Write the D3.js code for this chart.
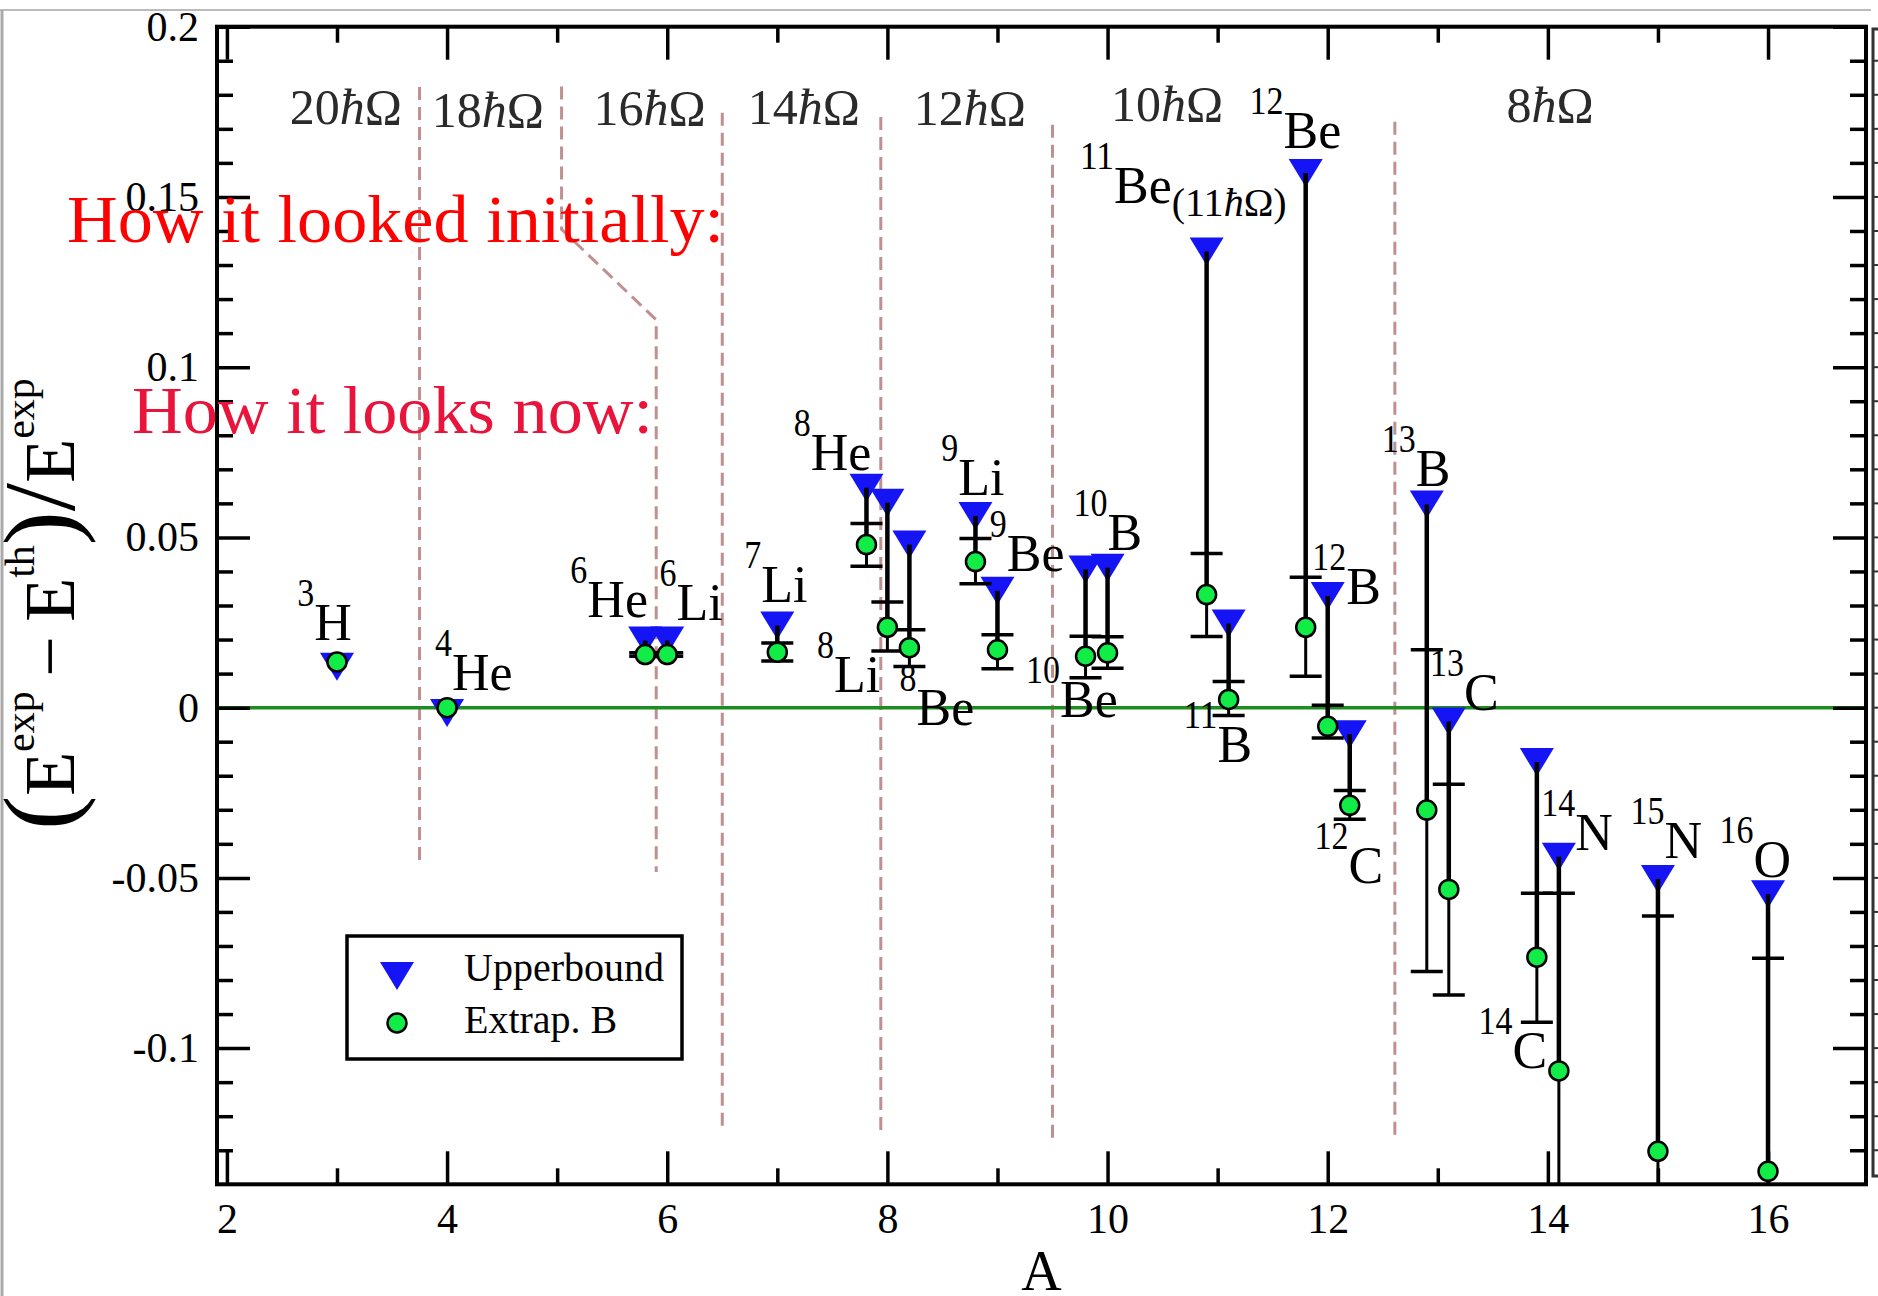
<!DOCTYPE html>
<html lang="en">
<head>
<meta charset="utf-8">
<title>Relative binding energy difference vs A</title>
<style>
body { margin: 0; background: #fff; }
svg text { font-family: "Liberation Serif", "Times New Roman", serif; }
.axis text { font-size: 42px; fill: #000; }
.axis line { stroke: #000; stroke-width: 3.5; }
.axis path { display: none; }
.nuc { font-size: 52px; fill: #000; }
.shell { font-size: 50px; fill: #2a2a2a; }
</style>
</head>
<body>
<script src="https://d3js.org/d3.v7.min.js"></script>
<script>
// values
var nuclei = ["3H", "4He", "6He", "6Li", "7Li", "8He", "8Li", "8Be", "9Li", "9Be", "10Be", "10B",
              "11Be", "11B", "12Be", "12B", "12C", "13B", "13C", "14C", "14N", "15N", "16O"];
// A, shifted a little where nuclei share the same mass number
var massA = [3.0, 4.0, 5.8, 6.0, 7.0, 7.81, 8.0, 8.2, 8.8, 9.0, 9.8, 10.0,
             10.9, 11.1, 11.8, 12.0, 12.2, 12.9, 13.1, 13.9, 14.1, 15.0, 16.0];
var upperbound = [0.0120, -0.0016, 0.0197, 0.0197, 0.0241, 0.0646, 0.0602, 0.0479, 0.0563, 0.0343, 0.0406, 0.0411,
                  0.134, 0.0247, 0.157, 0.0328, -0.0078, 0.0597, -0.0041, -0.0160, -0.0438, -0.0503, -0.0548];
var extrapB = [0.0134, 0.0, 0.0156, 0.0156, 0.0163, 0.0479, 0.0236, 0.0176, 0.0429, 0.0170, 0.0151, 0.0161,
               0.0332, 0.0024, 0.0236, -0.0055, -0.0287, -0.0301, -0.0534, -0.0733, -0.1067, -0.1303, -0.1362];
var errTop = [null, null, 0.0161, 0.0161, 0.0190, 0.0541, 0.0310, 0.0229, 0.0497, 0.0214, 0.0210, 0.0208,
              0.0453, 0.0077, 0.0383, 0.0007, -0.0243, 0.0170, -0.0225, -0.0545, -0.0545, -0.0612, -0.0736];
var errBottom = [null, null, 0.0151, 0.0151, 0.0137, 0.0415, 0.0166, 0.0121, 0.0364, 0.0114, 0.0088, 0.0116,
                 0.0209, -0.0023, 0.0092, -0.0089, -0.0328, -0.0775, -0.0844, -0.0924, -0.159, -0.199, -0.199];

// where each isotope label sits (left edge, baseline of the symbol), in data units
var labelA = [2.64, 3.89, 5.12, 5.93, 6.70, 7.15, 7.36, 8.11, 8.49, 8.93, 9.26, 9.69,
              9.75, 10.69, 11.29, 11.86, 11.88, 12.49, 12.93, 13.37, 13.94, 14.75, 15.56];
var labelV = [0.0199, 0.0052, 0.0267, 0.0258, 0.0311, 0.0698, 0.0047, -0.0051, 0.0625, 0.0400, -0.0028, 0.0463,
              0.1482, -0.0159, 0.1643, 0.0305, -0.0516, 0.0651, -0.0007, -0.1059, -0.0418, -0.0442, -0.0496];

// model space sizes at the top
var shellN = ["20", "18", "16", "14", "12", "10", "8"];
var shellA = [3.08, 4.37, 5.84, 7.24, 8.75, 10.54, 14.02];
var shellV = [0.1715, 0.1706, 0.1712, 0.1715, 0.1712, 0.1724, 0.1721];

// dashed region boundaries
var boundaries = [
    [[3.75, 0.1823], [3.75, -0.0462]],
    [[5.04, 0.1824], [5.04, 0.1405], [5.90, 0.1139], [5.90, -0.0483]],
    [[6.50, 0.1747], [6.50, -0.1240]],
    [[7.94, 0.1735], [7.94, -0.1250]],
    [[9.50, 0.1712], [9.50, -0.1276]],
    [[12.61, 0.1721], [12.61, -0.1261]]
];

var yMajor = [-0.1, -0.05, 0, 0.05, 0.1, 0.15, 0.2];
var yMajorLabels = ["-0.1", "-0.05", "0", "0.05", "0.1", "0.15", "0.2"];
var xMajor = [2, 4, 6, 8, 10, 12, 14, 16];
var xMinor = [3, 5, 7, 9, 11, 13, 15];

var svg = d3.select("body").append("svg").attr("width", 1878).attr("height", 1296);

var pLeft = 217, pRight = 1866, pTop = 26.7, pBottom = 1184.3;
var x = d3.scaleLinear().domain([1.91, 16.89]).range([pLeft, pRight]);
var y = d3.scaleLinear().domain([-0.14, 0.2]).range([pBottom, pTop]);

// screenshot border and the edge of the neighbouring panel
svg.append("line").attr("x1", 0).attr("x2", 1871).attr("y1", 10).attr("y2", 10)
    .attr("stroke", "#bbb").attr("stroke-width", 2);
svg.append("line").attr("x1", 2).attr("x2", 2).attr("y1", 10).attr("y2", 1296)
    .attr("stroke", "#aaa").attr("stroke-width", 3);
svg.append("path").attr("d", "M1878,29H1873V1176H1878").attr("fill", "none")
    .attr("stroke", "#333").attr("stroke-width", 3);
svg.append("g").selectAll("line").data(d3.range(-0.13, 0.2, 0.01)).enter().append("line")
    .attr("x1", 1873).attr("x2", 1878).attr("y1", function(d) { return y(d); }).attr("y2", function(d) { return y(d); })
    .attr("stroke", "#333").attr("stroke-width", 2);

svg.append("clipPath").attr("id", "plotclip").append("rect")
    .attr("x", pLeft).attr("y", pTop).attr("width", pRight - pLeft).attr("height", pBottom - pTop);

// dashed boundaries
var line = d3.line().x(function(d) { return x(d[0]); }).y(function(d) { return y(d[1]); });
svg.append("g").selectAll("path").data(boundaries).enter().append("path")
    .attr("d", line).attr("fill", "none").attr("stroke", "#c09090")
    .attr("stroke-width", 3).attr("stroke-dasharray", "13,7");

// zero line
svg.append("line").attr("x1", pLeft).attr("x2", pRight).attr("y1", y(0)).attr("y2", y(0))
    .attr("stroke", "#1e8c1e").attr("stroke-width", 3.5);

// axes, ticks pointing inwards
var yMinor = d3.range(-0.13, 0.2, 0.01).filter(function(d) {
    return Math.abs(Math.round(d * 100) % 5) !== 0;
});
svg.append("g").attr("class", "axis").attr("transform", "translate(" + pLeft + ",0)")
    .call(d3.axisLeft(y).tickValues(yMajor).tickSize(-33).tickPadding(18)
        .tickFormat(function(d, i) { return yMajorLabels[i]; }));
svg.append("g").attr("class", "axis").attr("transform", "translate(" + pLeft + ",0)")
    .call(d3.axisLeft(y).tickValues(yMinor).tickSize(-16).tickFormat(""));
svg.append("g").attr("class", "axis").attr("transform", "translate(" + pRight + ",0)")
    .call(d3.axisRight(y).tickValues(yMajor).tickSize(-33).tickFormat(""));
svg.append("g").attr("class", "axis").attr("transform", "translate(" + pRight + ",0)")
    .call(d3.axisRight(y).tickValues(yMinor).tickSize(-16).tickFormat(""));
svg.append("g").attr("class", "axis").attr("transform", "translate(0," + pBottom + ")")
    .call(d3.axisBottom(x).tickValues(xMajor).tickSize(-33).tickPadding(19).tickFormat(d3.format("d")));
svg.append("g").attr("class", "axis").attr("transform", "translate(0," + pBottom + ")")
    .call(d3.axisBottom(x).tickValues(xMinor).tickSize(-16).tickFormat(""));
svg.append("g").attr("class", "axis").attr("transform", "translate(0," + pTop + ")")
    .call(d3.axisTop(x).tickValues(xMajor).tickSize(-33).tickFormat(""));
svg.append("g").attr("class", "axis").attr("transform", "translate(0," + pTop + ")")
    .call(d3.axisTop(x).tickValues(xMinor).tickSize(-16).tickFormat(""));

svg.append("rect").attr("x", pLeft).attr("y", pTop).attr("width", pRight - pLeft).attr("height", pBottom - pTop)
    .attr("fill", "none").attr("stroke", "#000").attr("stroke-width", 4);

// axis titles
svg.append("text").attr("x", (pLeft + pRight) / 2).attr("y", 1290).attr("text-anchor", "middle")
    .attr("font-size", 56).text("A");

var yt = svg.append("text").attr("transform", "translate(74,604) rotate(-90)").attr("text-anchor", "middle");
yt.append("tspan").attr("font-size", 102).text("(");
yt.append("tspan").attr("font-size", 72).text("E");
yt.append("tspan").attr("font-size", 42).attr("dy", -40).text("exp");
yt.append("tspan").attr("font-size", 72).attr("dy", 40).text("\u2009\u2212\u2009E");
yt.append("tspan").attr("font-size", 42).attr("dy", -40).text("th");
yt.append("tspan").attr("font-size", 102).attr("dy", 40).text(")/");
yt.append("tspan").attr("font-size", 72).text("E");
yt.append("tspan").attr("font-size", 42).attr("dy", -40).text("exp");

// model space labels
svg.append("g").selectAll("text").data(shellN).enter().append("text")
    .attr("class", "shell").attr("text-anchor", "middle")
    .attr("x", function(d, i) { return x(shellA[i]); })
    .attr("y", function(d, i) { return y(shellV[i]); })
    .each(function(d) {
        var t = d3.select(this);
        t.append("tspan").text(d);
        t.append("tspan").attr("font-style", "italic").text("\u0127");
        t.append("tspan").text("\u03A9");
    });

var plot = svg.append("g").attr("clip-path", "url(#plotclip)");
var idx = d3.range(nuclei.length);

function triangle(cx, cy) {
    return "M" + (cx - 17) + "," + (cy - 14) + "L" + (cx + 17) + "," + (cy - 14) + "L" + cx + "," + (cy + 14) + "Z";
}

// upperbound markers
plot.selectAll(".tri").data(idx).enter().append("path").attr("class", "tri")
    .attr("d", function(i) { return triangle(x(massA[i]), y(upperbound[i])); })
    .attr("fill", "#1414f5");

// lines from upperbound down to the extrapolation
plot.selectAll(".drop").data(idx).enter().append("line").attr("class", "drop")
    .attr("x1", function(i) { return x(massA[i]); }).attr("x2", function(i) { return x(massA[i]); })
    .attr("y1", function(i) { return y(upperbound[i]); }).attr("y2", function(i) { return y(extrapB[i]); })
    .attr("stroke", "#000").attr("stroke-width", 4.5);

// error bars of extrap. B
var withErr = idx.filter(function(i) { return errTop[i] !== null; });
plot.selectAll(".err").data(withErr).enter().append("line").attr("class", "err")
    .attr("x1", function(i) { return x(massA[i]); }).attr("x2", function(i) { return x(massA[i]); })
    .attr("y1", function(i) { return y(errTop[i]); }).attr("y2", function(i) { return y(errBottom[i]); })
    .attr("stroke", "#000").attr("stroke-width", 3);
[errTop, errBottom].forEach(function(arr) {
    plot.append("g").selectAll("line").data(withErr).enter().append("line")
        .attr("x1", function(i) { return x(massA[i]) - 16; }).attr("x2", function(i) { return x(massA[i]) + 16; })
        .attr("y1", function(i) { return y(arr[i]); }).attr("y2", function(i) { return y(arr[i]); })
        .attr("stroke", "#000").attr("stroke-width", 3.5);
});

plot.selectAll(".dot").data(idx).enter().append("circle").attr("class", "dot")
    .attr("cx", function(i) { return x(massA[i]); }).attr("cy", function(i) { return y(extrapB[i]); })
    .attr("r", 9.5).attr("fill", "#12ec46").attr("stroke", "#000").attr("stroke-width", 2.5);

// isotope labels
svg.append("g").selectAll("text").data(idx).enter().append("text")
    .attr("class", "nuc")
    .attr("x", function(i) { return x(labelA[i]); })
    .attr("y", function(i) { return y(labelV[i]); })
    .each(function(i) {
        var m = nuclei[i].match(/^(\d+)(\D+)$/);
        var t = d3.select(this);
        t.append("tspan").attr("font-size", 40).attr("dy", -34).attr("textLength", m[1].length * 17)
            .attr("lengthAdjust", "spacingAndGlyphs").text(m[1]);
        t.append("tspan").attr("dy", 34).text(m[2]);
        if (nuclei[i] === "11Be") {
            t.attr("fill", "#333");
            var s = t.append("tspan").attr("font-size", 40).attr("dy", 13);
            s.append("tspan").text("(11");
            s.append("tspan").attr("font-style", "italic").text("\u0127");
            s.append("tspan").text("\u03A9)");
        }
    });

// legend
var lg = svg.append("g");
lg.append("rect").attr("x", 347).attr("y", 936).attr("width", 335).attr("height", 123)
    .attr("fill", "#fff").attr("stroke", "#000").attr("stroke-width", 3.5);
lg.append("path").attr("d", triangle(397, 976)).attr("fill", "#1414f5");
lg.append("circle").attr("cx", 397).attr("cy", 1023).attr("r", 9.5)
    .attr("fill", "#12ec46").attr("stroke", "#000").attr("stroke-width", 2.5);
lg.append("text").attr("x", 464).attr("y", 981).attr("font-size", 40).text("Upperbound");
lg.append("text").attr("x", 464).attr("y", 1033).attr("font-size", 40).text("Extrap. B");

// overlaid notes
svg.append("text").attr("x", 67).attr("y", 242).attr("font-size", 68).attr("fill", "#ff0000")
    .attr("textLength", 657).attr("lengthAdjust", "spacingAndGlyphs").text("How it looked initially:");
svg.append("text").attr("x", 132).attr("y", 433).attr("font-size", 68).attr("fill", "#e8143c")
    .attr("textLength", 521).attr("lengthAdjust", "spacingAndGlyphs").text("How it looks now:");
</script>
</body>
</html>
